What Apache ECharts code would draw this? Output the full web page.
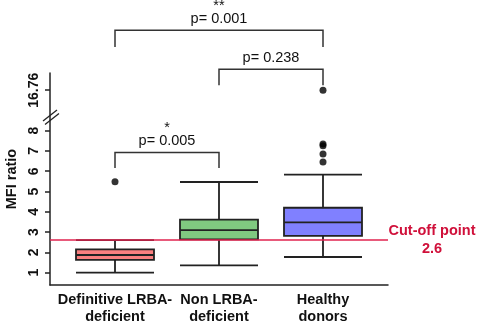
<!DOCTYPE html>
<html>
<head>
<meta charset="utf-8">
<script src="https://cdn.jsdelivr.net/npm/echarts@6.0.0/dist/echarts.min.js"></script>
<style>
  html, body { margin: 0; padding: 0; background: #fff; }
  #chart { width: 478px; height: 324px; }
</style>
</head>
<body>
<div id="chart"></div>
<script>
// groups on the x axis
const groups = ['Definitive LRBA-\ndeficient', 'Non LRBA-\ndeficient', 'Healthy\ndonors'];
// [low whisker, Q1, median, Q3, high whisker]
const boxStats = [
  [1.0, 1.63, 1.87, 2.15, 2.6],
  [1.36, 2.64, 3.1, 3.61, 5.47],
  [1.77, 2.81, 3.48, 4.2, 5.83]
];
const boxColors = ['#fa7f7f', '#80c980', '#8080ff'];
// outliers: [group index, value]
const outliers = [
  [0, 5.48],
  [2, 6.45], [2, 6.85], [2, 7.26], [2, 7.34], [2, 16.76]
];
const yTicks = [1, 2, 3, 4, 5, 6, 7, 8, 16.76];
const cutoff = 2.6;
// significance brackets: [from group, to group, bar level, leg end, p text, stars]
const brackets = [
  [0, 2, 19.72, 18.89, 'p= 0.001', '**'],
  [1, 2, 17.79, 17.0, 'p= 0.238', ''],
  [0, 1, 6.93, 6.16, 'p= 0.005', '*']
];

const chart = echarts.init(document.getElementById('chart'));
const font = 'Liberation Sans, Arial, sans-serif';
const ink = '#222';

// shared broken value scale
const yMin = 0.39, yMax = 17.61;
const yBreaks = [{ start: 8.6, end: 16.16, gap: '7.6%' }];

chart.setOption({
  animation: false,
  grid: [
    { left: 63, right: 103, top: 73, bottom: 39, outerBoundsMode: 'none' },  // boxes
    { left: 50, right: 90, top: 73, bottom: 39, outerBoundsMode: 'none' }    // frame + cut-off line
  ],
  xAxis: [
    {
      type: 'category',
      gridIndex: 0,
      data: groups,
      axisLine: { show: false },
      axisTick: { show: false },
      axisLabel: {
        color: '#111', fontFamily: font, fontWeight: 'bold', fontSize: 14.5,
        lineHeight: 17, margin: 6, interval: 0
      }
    },
    {
      type: 'value',
      gridIndex: 1,
      min: 0, max: 1,
      axisLine: { show: true, lineStyle: { color: ink, width: 1.5 } },
      axisTick: { show: false },
      axisLabel: { show: false },
      splitLine: { show: false }
    }
  ],
  yAxis: [
    {
      type: 'value',
      gridIndex: 0,
      offset: 13,
      min: yMin, max: yMax,
      breaks: yBreaks,
      breakArea: { show: false },
      splitLine: { show: false },
      name: 'MFI ratio',
      nameLocation: 'middle',
      nameGap: 29,
      nameTextStyle: { color: '#111', fontFamily: font, fontWeight: 'bold', fontSize: 14.5 },
      axisLine: { show: false },
      axisTick: { show: true, customValues: yTicks, length: 5, lineStyle: { color: ink, width: 1.5 } },
      axisLabel: {
        customValues: yTicks,
        rotate: 90,
        color: '#111', fontFamily: font, fontWeight: 'bold', fontSize: 14, margin: 9
      }
    },
    {
      type: 'value',
      gridIndex: 1,
      min: yMin, max: yMax,
      breaks: yBreaks,
      breakArea: { show: false },
      show: false
    },
    {
      type: 'value',
      gridIndex: 1,
      position: 'left',
      min: 0, max: 1,
      axisLine: { show: true, lineStyle: { color: ink, width: 1.5 } },
      axisTick: { show: false },
      axisLabel: { show: false },
      splitLine: { show: false }
    }
  ],
  graphic: [
    // axis break mark
    { type: 'line', shape: { x1: 43, y1: 121, x2: 57, y2: 110 }, style: { stroke: ink, lineWidth: 1.3 } },
    { type: 'line', shape: { x1: 45, y1: 124.5, x2: 59, y2: 113.5 }, style: { stroke: ink, lineWidth: 1.3 } }
  ],
  series: [
    {
      type: 'line',
      xAxisIndex: 1,
      yAxisIndex: 1,
      data: [],
      markLine: {
        silent: true,
        symbol: 'none',
        lineStyle: { color: '#e0234f', width: 1.5, type: 'solid' },
        label: {
          show: true,
          position: 'end',
          formatter: 'Cut-off point\n2.6',
          color: '#d0103a',
          fontFamily: font,
          fontWeight: 'bold',
          fontSize: 14.5,
          lineHeight: 18,
          align: 'center',
          distance: 44
        },
        data: [{ yAxis: cutoff }]
      }
    },
    {
      type: 'boxplot',
      xAxisIndex: 0,
      yAxisIndex: 0,
      boxWidth: [78, 78],
      data: boxStats.map((d, i) => ({
        value: d,
        itemStyle: { color: boxColors[i], borderColor: ink, borderWidth: 1.8 }
      }))
    },
    {
      type: 'scatter',
      xAxisIndex: 0,
      yAxisIndex: 0,
      data: outliers,
      symbolSize: 7,
      itemStyle: { color: '#000' }
    },
    {
      type: 'custom',
      xAxisIndex: 0,
      yAxisIndex: 0,
      clip: false,
      data: brackets,
      renderItem: function (params, api) {
        const p1 = api.coord([api.value(0), api.value(2)]);
        const p2 = api.coord([api.value(1), api.value(2)]);
        const leg = api.coord([api.value(0), api.value(3)]);
        const item = brackets[params.dataIndex];
        const children = [{
          type: 'polyline',
          shape: { points: [[p1[0], leg[1]], p1, p2, [p2[0], leg[1]]] },
          style: { stroke: '#333', lineWidth: 1.5, fill: null }
        }, {
          type: 'text',
          style: {
            x: (p1[0] + p2[0]) / 2, y: p1[1] - 11,
            text: item[4], fill: '#111', font: '14.5px ' + font,
            align: 'center', verticalAlign: 'middle'
          }
        }];
        if (item[5]) {
          children.push({
            type: 'text',
            style: {
              x: (p1[0] + p2[0]) / 2, y: p1[1] - 24,
              text: item[5], fill: '#111', font: '14.5px ' + font,
              align: 'center', verticalAlign: 'middle'
            }
          });
        }
        return { type: 'group', children: children };
      }
    }
  ]
});
</script>
</body>
</html>
